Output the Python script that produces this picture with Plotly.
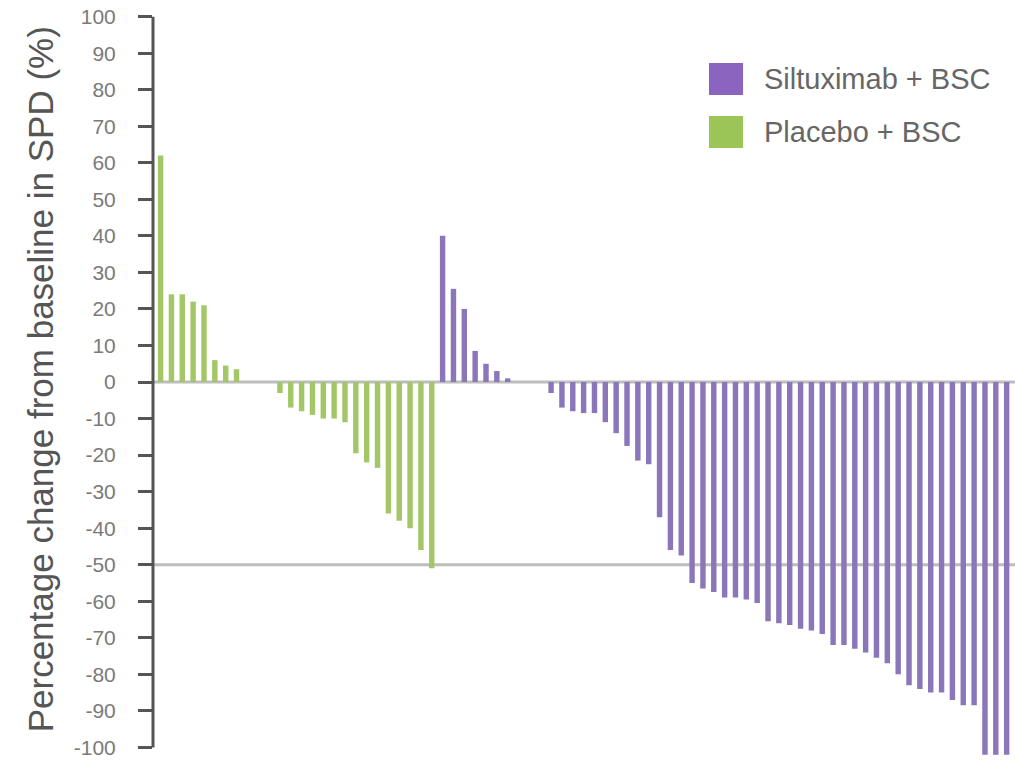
import plotly.graph_objects as go

# Data: percentage change from baseline in SPD, per patient (waterfall order)
placebo_label = "Placebo + BSC"
siltuximab_label = "Siltuximab + BSC"

placebo_values = [62, 24, 24, 22, 21, 6, 4.5, 3.5, 0, 0, 0,
                  -3, -7, -8, -9, -10, -10, -11, -19.5, -22, -23.5,
                  -36, -38, -40, -46, -51]

siltuximab_values = [40, 25.5, 20, 8.5, 5, 3, 1, 0, 0, 0,
                     -3, -7, -8, -8.5, -8.5, -11, -14, -17.5, -21.5, -22.5,
                     -37, -46, -47.5, -55, -56.5, -57.5, -59, -59, -59.5, -60.5,
                     -65.5, -66, -66.5, -67.5, -68, -69, -72, -72, -73, -74,
                     -75.5, -77, -80, -83, -84, -85, -85, -87, -88.5, -88.5,
                     -102, -102, -102]

y_ticks = list(range(-100, 101, 10))
y_title = "Percentage change from baseline in SPD (%)"

placebo_x = list(range(len(placebo_values)))
siltuximab_x = list(range(len(placebo_values), len(placebo_values) + len(siltuximab_values)))

bar_purple = "#8B76BA"
bar_green = "#A3C766"
leg_purple = "#8A64BE"
leg_green = "#9BC556"

fig = go.Figure()
fig.add_trace(go.Bar(x=placebo_x, y=placebo_values, name=placebo_label,
                     marker=dict(color=bar_green, line=dict(width=0)), width=0.5))
fig.add_trace(go.Bar(x=siltuximab_x, y=siltuximab_values, name=siltuximab_label,
                     marker=dict(color=bar_purple, line=dict(width=0)), width=0.5))

fig.update_layout(
    width=1015, height=762,
    margin=dict(l=153, r=0, t=13, b=0, autoexpand=False),
    plot_bgcolor="white", paper_bgcolor="white",
    showlegend=False, barmode="overlay",
    font=dict(family="Liberation Sans, Arial, sans-serif"),
)
fig.update_xaxes(range=[-0.7, 78.77], visible=False, automargin=False)
fig.update_yaxes(range=[-104, 101], tickvals=y_ticks, ticktext=[str(v) for v in y_ticks],
                 showgrid=False, zeroline=False, showline=False, automargin=False,
                 ticks="outside", ticklen=14, tickwidth=3, tickcolor="#555555",
                 ticklabelstandoff=18,
                 tickfont=dict(size=21, color="#7a7a7a"))

# reference lines at 0 and -50
for yv in (0, -50):
    fig.add_shape(type="line", xref="paper", yref="y", x0=0, x1=1, y0=yv, y1=yv,
                  line=dict(color="#bdbdbd", width=3), layer="below")
# y axis line spanning -100..100
fig.add_shape(type="line", xref="paper", yref="y", x0=0, x1=0, y0=-100, y1=100,
              line=dict(color="#555555", width=3))

fig.add_annotation(text=y_title, xref="paper", yref="paper", x=-0.131, y=0.511,
                   textangle=-90, showarrow=False, xanchor="center", yanchor="middle",
                   font=dict(size=35, color="#555555"))

# legend
legend_items = [(siltuximab_label, leg_purple, 0.9333, 0.8905, 0.9119),
                (placebo_label, leg_green, 0.8625, 0.8198, 0.8411)]
for label, col, ytop, ybot, ymid in legend_items:
    fig.add_shape(type="rect", xref="paper", yref="paper", x0=0.645, x1=0.6845,
                  y0=ybot, y1=ytop, fillcolor=col, line=dict(width=0))
    fig.add_annotation(text=label, xref="paper", yref="paper", x=0.7065, y=ymid,
                       xanchor="left", yanchor="middle", showarrow=False,
                       font=dict(size=29, color="#666666"))

fig.write_html("out.html", config={"displayModeBar": False},
               post_script="document.body.style.margin='0';document.body.style.overflow='hidden';")
